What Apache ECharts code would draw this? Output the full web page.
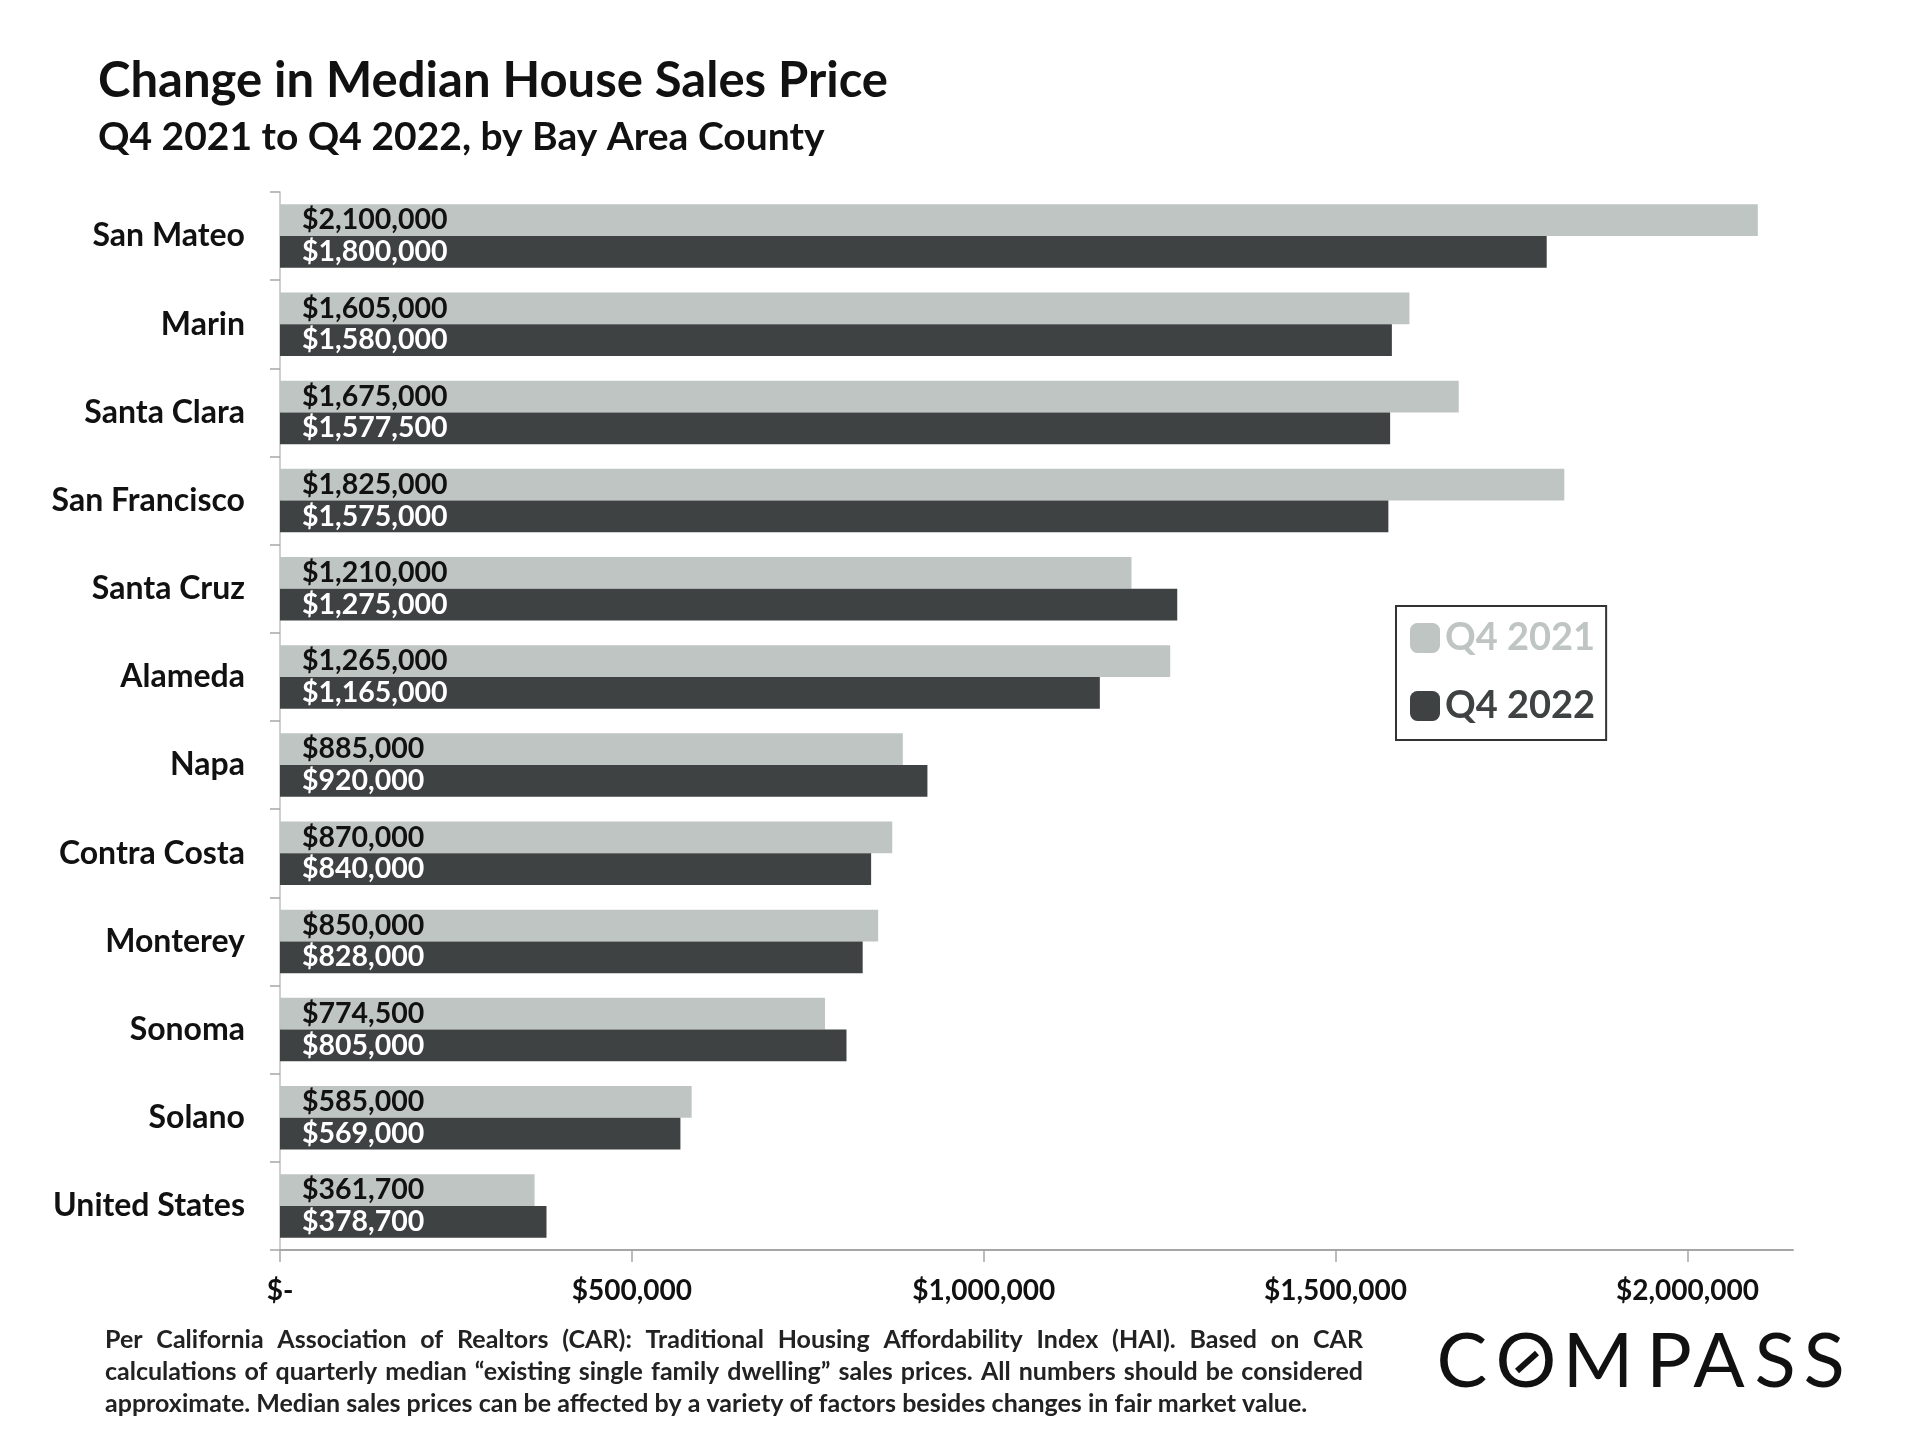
<!DOCTYPE html>
<html lang="en">
<head>
    <meta charset="UTF-8">
    <title>Change in Median House Sales Price</title>
    <script src="https://cdn.jsdelivr.net/npm/echarts@6.0.0/dist/echarts.min.js"></script>
    <style>
        body { margin: 0; background: #fff; }
        #chart { width: 1920px; height: 1440px; }
    </style>
</head>
<body>
    <div id="chart"></div>

    <script>
        // values
        var counties = ['San Mateo', 'Marin', 'Santa Clara', 'San Francisco', 'Santa Cruz', 'Alameda',
            'Napa', 'Contra Costa', 'Monterey', 'Sonoma', 'Solano', 'United States'];
        var q4_2021 = [2100000, 1605000, 1675000, 1825000, 1210000, 1265000,
            885000, 870000, 850000, 774500, 585000, 361700];
        var q4_2022 = [1800000, 1580000, 1577500, 1575000, 1275000, 1165000,
            920000, 840000, 828000, 805000, 569000, 378700];
        var xTicks = [0, 500000, 1000000, 1500000, 2000000];

        var footLines = [
            'Per California Association of Realtors (CAR): Traditional Housing Affordability Index (HAI). Based on CAR',
            'calculations of quarterly median \u201cexisting single family dwelling\u201d sales prices. All numbers should be considered',
            'approximate. Median sales prices can be affected by a variety of factors besides changes in fair market value.'
        ];

        var light = '#BFC5C2';
        var dark = '#3F4242';
        var font = 'Lato';

        function money(v) {
            if (v === 0) return '$-';
            return '$' + v.toLocaleString('en-US');
        }

        var myChart = echarts.init(document.getElementById('chart'));

        // footer: first two lines are justified like the original, last one is left aligned
        var graphics = [];
        var footFont = 'bold 25px ' + font;
        var ctx = document.createElement('canvas').getContext('2d');
        ctx.font = footFont;
        var footLeft = 105, footRight = 1363;
        footLines.forEach(function (t, i) {
            var y = 1340 + i * 32;
            if (i === footLines.length - 1) {
                graphics.push({
                    type: 'text',
                    style: { text: t, x: footLeft, y: y, verticalAlign: 'middle', font: footFont, fill: '#222' }
                });
                return;
            }
            var words = t.split(' ');
            var total = 0;
            words.forEach(function (w) { total += ctx.measureText(w).width; });
            var gap = (footRight - footLeft - total) / (words.length - 1);
            var x = footLeft;
            words.forEach(function (w) {
                graphics.push({
                    type: 'text',
                    style: { text: w, x: x, y: y, verticalAlign: 'middle', font: footFont, fill: '#222' }
                });
                x += ctx.measureText(w).width + gap;
            });
        });

        // logo
        var logo = [['C', 1462], ['O', 1526], ['M', 1598], ['P', 1669], ['A', 1719], ['S', 1775], ['S', 1824]];
        logo.forEach(function (l) {
            graphics.push({
                type: 'text',
                style: {
                    text: l[0], x: l[1], y: 1362, align: 'center', verticalAlign: 'middle',
                    fontFamily: font, fontWeight: 'normal', fontSize: 76, fill: '#111'
                }
            });
        });
        graphics.push({
            type: 'line',
            shape: { x1: 1517, y1: 1371, x2: 1537, y2: 1353 },
            style: { stroke: '#111', lineWidth: 6 }
        });

        var option = {
            backgroundColor: '#fff',
            animation: false,
            title: {
                text: 'Change in Median House Sales Price',
                subtext: 'Q4 2021 to Q4 2022, by Bay Area County',
                left: 98,
                top: 57,
                padding: 0,
                itemGap: 12,
                textStyle: { fontFamily: font, fontWeight: 'bold', fontSize: 49, color: '#111' },
                subtextStyle: { fontFamily: font, fontWeight: 'bold', fontSize: 39, color: '#111' }
            },
            legend: {
                orient: 'vertical',
                left: 1396,
                top: 606,
                padding: [13, 11, 15, 14],
                itemGap: 30,
                itemWidth: 30,
                itemHeight: 30,
                borderColor: '#333',
                borderWidth: 2,
                icon: 'roundRect',
                textStyle: { fontFamily: font, fontWeight: 'bold', fontSize: 38 },
                data: [
                    { name: 'Q4 2021', textStyle: { color: light } },
                    { name: 'Q4 2022', textStyle: { color: dark } }
                ]
            },
            grid: { left: 280, right: 127, top: 192, bottom: 190 },
            xAxis: {
                type: 'value',
                min: 0,
                max: 2150000,
                interval: 500000,
                splitLine: { show: false },
                axisLine: { show: true, lineStyle: { color: '#A6A6A6', width: 2 } },
                axisTick: { show: true, length: 12, customValues: xTicks, lineStyle: { color: '#A6A6A6', width: 1.5 } },
                axisLabel: {
                    customValues: xTicks,
                    margin: 27,
                    fontFamily: font, fontWeight: 'bold', fontSize: 28, color: '#111',
                    formatter: money
                }
            },
            yAxis: {
                type: 'category',
                inverse: true,
                data: counties,
                axisLine: { show: true, lineStyle: { color: '#BFBFBF', width: 1.5 } },
                axisTick: { show: true, length: 10, lineStyle: { color: '#A6A6A6', width: 1.5 } },
                axisLabel: { margin: 35, fontFamily: font, fontWeight: 'bold', fontSize: 32, color: '#111' }
            },
            graphic: graphics,
            series: [
                {
                    name: 'Q4 2021',
                    type: 'bar',
                    data: q4_2021,
                    barGap: '0%',
                    barCategoryGap: '28%',
                    itemStyle: { color: light },
                    label: {
                        show: true, position: 'insideLeft', distance: 22,
                        fontFamily: font, fontWeight: 'bold', fontSize: 28.5, color: '#111',
                        formatter: function (p) { return money(p.value); }
                    }
                },
                {
                    name: 'Q4 2022',
                    type: 'bar',
                    data: q4_2022,
                    itemStyle: { color: dark },
                    label: {
                        show: true, position: 'insideLeft', distance: 22,
                        fontFamily: font, fontWeight: 'bold', fontSize: 28.5, color: '#fff',
                        formatter: function (p) { return money(p.value); }
                    }
                }
            ]
        };
        myChart.setOption(option);
    </script>
</body>
</html>
